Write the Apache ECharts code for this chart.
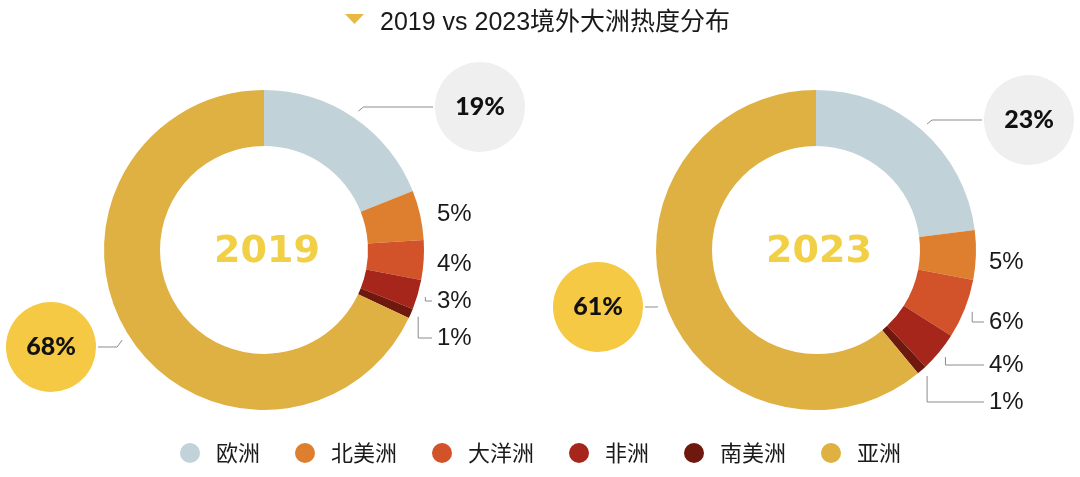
<!DOCTYPE html>
<html><head><meta charset="utf-8">
<script src="https://cdn.jsdelivr.net/npm/echarts@6/dist/echarts.min.js"></script>
<style>html,body{margin:0;padding:0;background:#fff}#c{width:1080px;height:477px}</style>
</head><body><div id="c"></div>
<script>
const categories = ['欧洲','北美洲','大洋洲','非洲','南美洲','亚洲'];
const values2019 = [19,5,4,3,1,68];
const values2023 = [23,5,6,4,1,61];
const yearLabels = ['2019','2023'];
const chartTitle = '2019 vs 2023境外大洲热度分布';

const colors = ['#c1d2d8','#de7f2f','#d2522a','#a6261c','#6f190e','#dfb042'];

const pieLayouts = [
  {center:[264,250], big:{0:[480,107,'#efefef'],5:[51,347,'#f5c944']}, smallX:437, smallY:{1:214,2:264,3:301,4:338}, hideLine:[1,2]},
  {center:[816,250], big:{0:[1029,120,'#efefef'],5:[598,307,'#f5c944']}, smallX:989, smallY:{1:262,2:322,3:365,4:402}, hideLine:[1]}
];

function makeSeries(values, L) {
  return {
    type:'pie', center:L.center, radius:[104,160], startAngle:90, clockwise:true,
    avoidLabelOverlap:false, emphasis:{disabled:true}, silent:true,
    data: categories.map((n,i)=>({
      name:n, value:values[i], itemStyle:{color:colors[i]},
      labelLine:{show: !L.hideLine.includes(i)},
      label: L.big[i] ? {
        fontFamily:'Lato', fontWeight:900, fontSize:25, color:'#111',
        backgroundColor:L.big[i][2], width:90, height:90, lineHeight:90,
        borderRadius:45, align:'center', padding:0
      } : {}
    })),
    label:{show:true, position:'outside', formatter:'{c}%', fontSize:24,
      fontFamily:'"Liberation Sans", Arial, sans-serif', color:'#1a1a1a'},
    labelLine:{show:true, length:10, length2:10, smooth:false, lineStyle:{color:'#8c8c8c', width:1}},
    labelLayout: function(p){
      const i = p.dataIndex;
      const pts = p.labelLinePoints;
      let start = null;
      if (pts && pts.length >= 2) {
        const dx = pts[1][0]-pts[0][0], dy = pts[1][1]-pts[0][1];
        const l = Math.hypot(dx,dy) || 1;
        start = [pts[0][0]+dx/l*8, pts[0][1]+dy/l*8];
      }
      if (L.big[i]) {
        const cx = L.big[i][0], cy = L.big[i][1];
        const out = {x:cx, y:cy, align:'center', verticalAlign:'middle'};
        if (start) {
          const s = cx > start[0] ? 1 : -1;
          out.labelLinePoints = [start, [start[0]+5*s, cy], [cx-47*s, cy]];
        }
        return out;
      }
      const y = L.smallY[i];
      const out = {x:L.smallX, y:y, align:'left', verticalAlign:'middle'};
      if (start) out.labelLinePoints = [start, [start[0], y], [L.smallX-5, y]];
      return out;
    }
  };
}

const chart = echarts.init(document.getElementById('c'));
chart.setOption({
  animation:false,
  backgroundColor:'#fff',
  legend:{
    left:175, top:437, itemWidth:42, itemHeight:20, itemGap:35, icon:'circle',
    data: categories, selectedMode:false,
    textStyle:{fontSize:22, color:'#1a1a1a', fontFamily:'"Noto Sans CJK SC", sans-serif'}
  },
  graphic:[
    {type:'polygon', shape:{points:[[345,14],[364,14],[354.5,24]]}, style:{fill:'#e9b840'}},
    {type:'text', x:380, y:23, style:{text:chartTitle, font:'25px "Liberation Sans", "Noto Sans CJK SC", sans-serif', fill:'#1a1a1a', textVerticalAlign:'middle', verticalAlign:'middle'}},
    ...yearLabels.map((t,k)=>({type:'text', x:pieLayouts[k].center[0]+3, y:pieLayouts[k].center[1]+2,
      style:{text:t, font:'bold 38px "DejaVu Sans", sans-serif', fill:'#f2d046', textAlign:'center', align:'center', textVerticalAlign:'middle', verticalAlign:'middle'}}))
  ],
  series:[ makeSeries(values2019, pieLayouts[0]), makeSeries(values2023, pieLayouts[1]) ]
});
</script></body></html>
